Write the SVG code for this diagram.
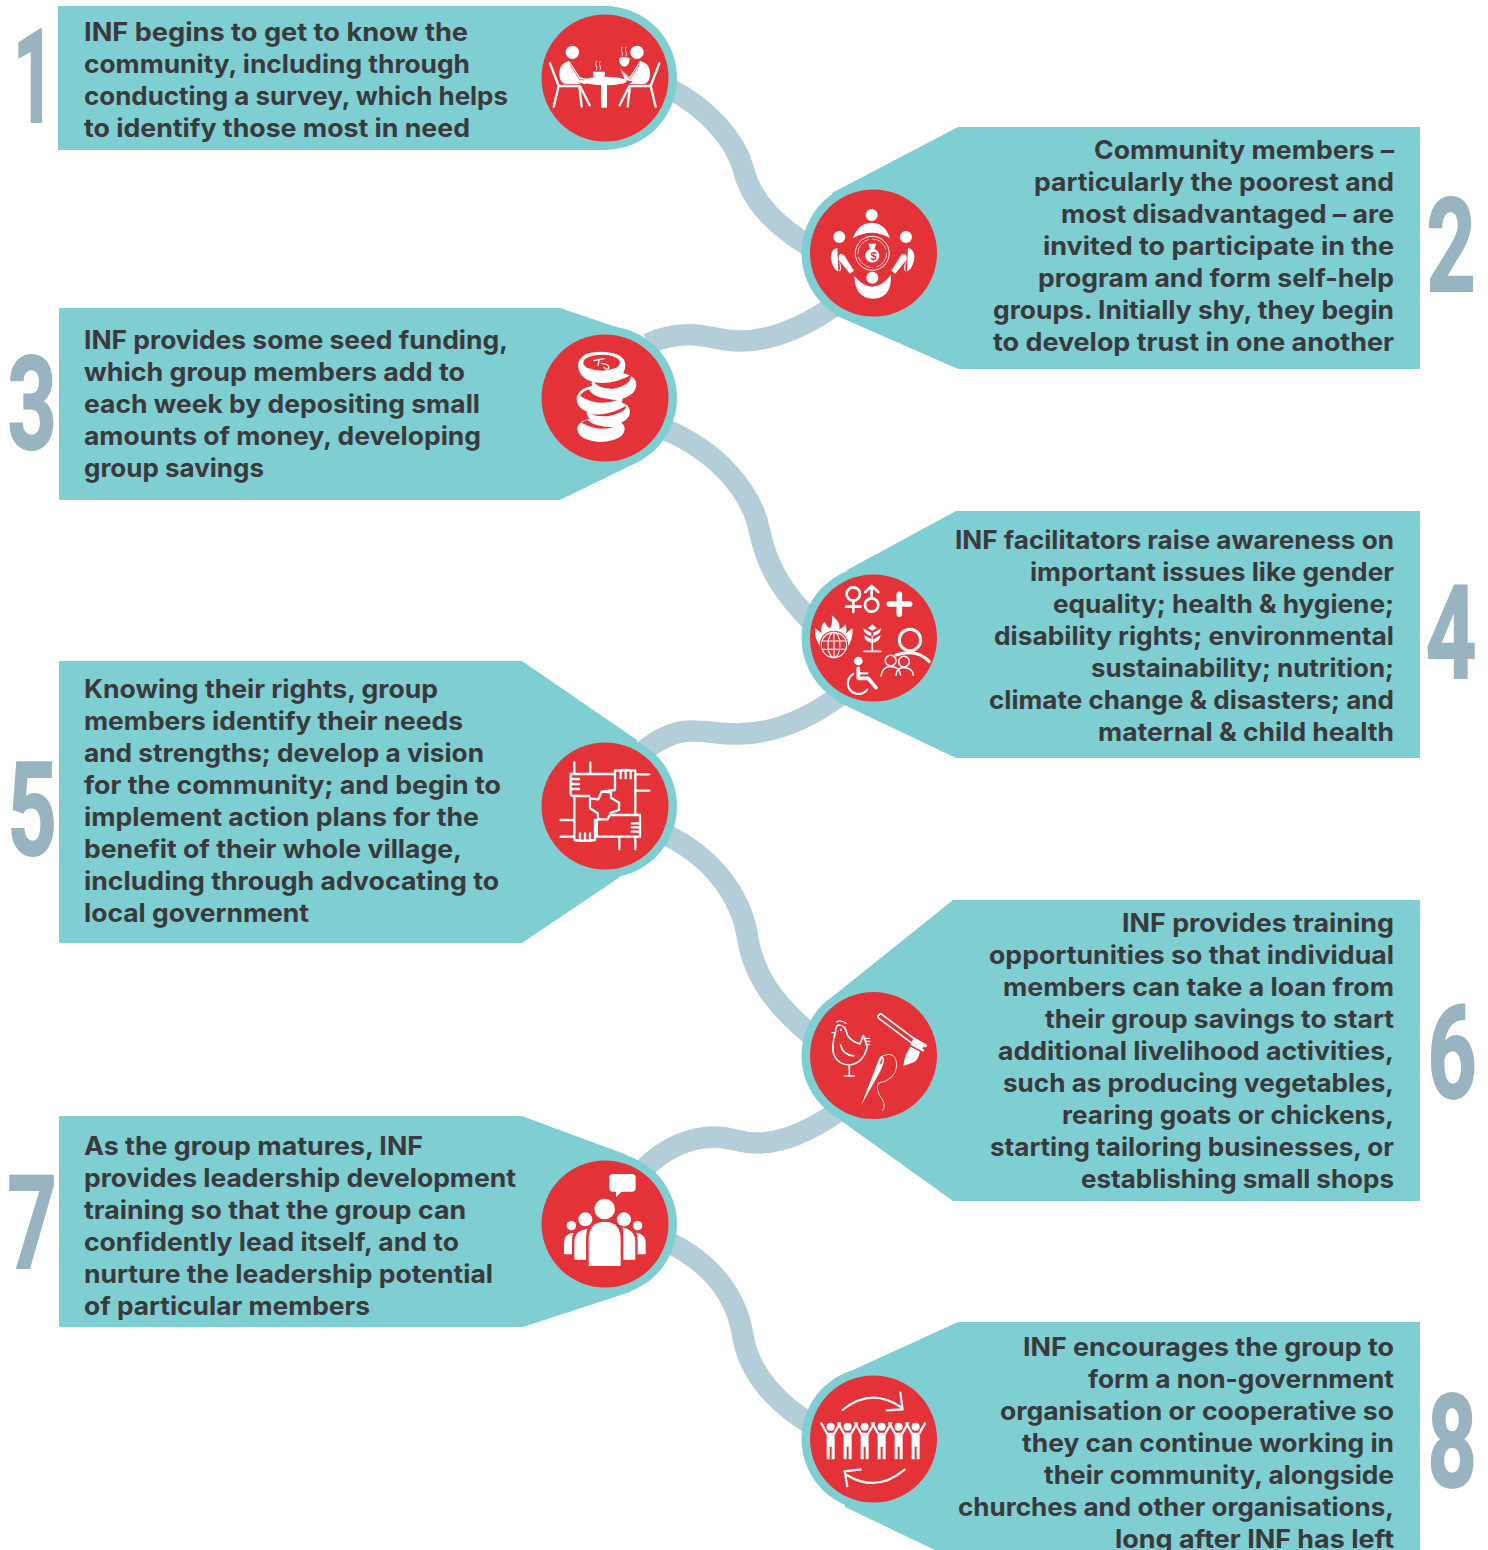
<svg xmlns="http://www.w3.org/2000/svg" width="1488" height="1550" viewBox="0 0 1488 1550">
<style>
.box{fill:#7fced2}
.disc{fill:#e43338}
.conn{fill:none;stroke:#b3ced8;stroke-width:21.5}
.t text{font-family:"Inter","Liberation Sans",sans-serif;font-weight:700;font-size:25.5px;fill:#3a3a3c}
.num{font-family:"Roboto","Liberation Sans",sans-serif;font-weight:700;font-size:130px;fill:#99b4c1;stroke:#99b4c1;stroke-width:2;text-anchor:middle}
.w{fill:#fff}
.ws{fill:none;stroke:#fff;stroke-linecap:round;stroke-linejoin:round}
.rs{fill:none;stroke:#e43338;stroke-linecap:round;stroke-linejoin:round}
</style>
<defs>
<g id="person">
<circle cx="0" cy="860" r="12" class="w"/>
<path class="w" d="M-12 878H12V958H3V920H-3V958H-12Z"/>
<path class="ws" stroke-width="7" d="M-10 882L-28 850M10 882L28 850"/>
</g>
</defs>
<rect width="1488" height="1550" fill="#fff"/>
<g id="connectors" class="conn">
<path d="M668 88C708 108 735 140 743 168C752 205 780 228 812 248"/>
<path d="M648 344C665 336 680 334 695 335C710 336 722 341 740 341C775 341 808 325 840 302"/>
<path d="M664 429C715 450 752 490 760 533C768 570 785 595 814 624"/>
<path d="M645 750C660 738 675 731 692 731C710 731 718 734 737 734C775 734 810 718 842 694"/>
<path d="M664 834C710 855 742 895 748 940C755 980 780 1010 814 1037"/>
<path d="M645 1168C665 1148 690 1137 715 1137C730 1137 740 1143 757 1143C785 1143 812 1130 840 1110"/>
<path d="M666 1241C710 1262 737 1295 743 1337C750 1375 778 1405 814 1426"/>
</g>

<g id="node-1">
<rect class="box" x="58" y="6" width="547" height="144"/><circle class="box" cx="605" cy="78" r="72"/>
<circle class="disc" cx="605" cy="78" r="63.5"/>
<g transform="translate(530,0) scale(.3333)">
<circle class="w" cx="127" cy="157" r="20"/><circle class="w" cx="321" cy="157" r="20"/>
<path class="w" d="M118 183Q86 190 88 225Q90 250 108 252L150 252L135 240Q125 215 118 183Z"/>
<path class="w" d="M330 183Q362 190 360 225Q358 250 340 252L298 252L313 240Q323 215 330 183Z"/>
<path class="w" d="M118 183L150 232L185 240L165 252L135 245Z"/>
<path class="w" d="M330 183L298 232L270 205L285 240L313 245Z"/>
<path class="rs" stroke-width="2" d="M122 195L148 238L185 244M326 195L300 238L272 210"/>
<path class="ws" stroke-width="7" d="M60 190L86 258L71 320M85 258H148L155 320M150 258L179 316M388 190L362 258L377 320M363 258H300L293 320M298 258L269 316"/>
<ellipse class="w" cx="225" cy="243" rx="65" ry="13"/><rect class="w" x="213" y="250" width="18" height="73"/>
<path class="w" d="M189 215H225Q225 245 207 246Q189 245 189 215Z"/>
<path class="w" d="M267 175Q283 168 299 175Q298 200 283 200Q268 200 267 175Z"/>
<path class="ws" stroke-width="2.5" d="M199 184Q195 192 199 198Q203 205 199 210M210 184Q206 192 210 198Q214 205 210 210M276 142Q272 150 276 156Q280 162 276 168M288 142Q284 150 288 156Q292 162 288 168"/>
</g>
<g class="t"><text x="84" y="41" textLength="384" lengthAdjust="spacingAndGlyphs">INF begins to get to know the</text>
<text x="84" y="73" textLength="386" lengthAdjust="spacingAndGlyphs">community, including through</text>
<text x="84" y="105" textLength="424" lengthAdjust="spacingAndGlyphs">conducting a survey, which helps</text>
<text x="84" y="137" textLength="386" lengthAdjust="spacingAndGlyphs">to identify those most in need</text></g>
<text class="num" transform="translate(34,122) scale(.56,1)">1</text>
</g>

<g id="node-2">
<path class="box" d="M1420 127H958L832 193L835 315L958 369H1420Z"/><circle class="box" cx="873.5" cy="253" r="72"/>
<circle class="disc" cx="873.5" cy="253" r="63.5"/>
<g transform="translate(530,0) scale(.3333)">
<circle class="w" cx="1025" cy="645" r="18"/><circle class="w" cx="928" cy="711" r="18"/><circle class="w" cx="1128" cy="711" r="18"/><circle class="w" cx="1027" cy="833" r="18"/>
<path class="w" d="M969 715Q985 668 1025 668Q1065 668 1080 715Q1025 682 969 715Z"/>
<path class="w" d="M973 828Q1000 860 1027 860Q1055 860 1083 825Q1085 895 1030 896Q975 895 973 828Z"/>
<path class="w" d="M922 743Q898 750 904 782Q912 815 930 814Q940 805 926 780Q924 755 942 765L972 812L960 821L925 778Q935 815 925 813Z"/>
<path class="w" d="M1134 743Q1158 750 1152 782Q1144 815 1126 814Q1116 805 1130 780Q1132 755 1114 765L1084 812L1096 821L1131 778Q1121 815 1131 813Z"/>
<circle class="ws" stroke-width="3" cx="1027" cy="760" r="51"/><circle class="ws" stroke-width="2" cx="1027" cy="760" r="43" stroke-dasharray="55 12"/>
<circle class="w" cx="1027" cy="767" r="21"/><path class="w" d="M1015 731H1039L1032 750H1022Z"/>
</g>
<text x="873.5" y="260" font-family="Liberation Sans,sans-serif" font-weight="700" font-size="11" fill="#e43338" text-anchor="middle">$</text>
<g class="t"><text x="1094" y="159" textLength="300" lengthAdjust="spacingAndGlyphs">Community members –</text>
<text x="1034" y="191" textLength="360" lengthAdjust="spacingAndGlyphs">particularly the poorest and</text>
<text x="1061" y="223" textLength="333" lengthAdjust="spacingAndGlyphs">most disadvantaged – are</text>
<text x="1043" y="255" textLength="351" lengthAdjust="spacingAndGlyphs">invited to participate in the</text>
<text x="1038" y="287" textLength="356" lengthAdjust="spacingAndGlyphs">program and form self-help</text>
<text x="993" y="319" textLength="401" lengthAdjust="spacingAndGlyphs">groups. Initially shy, they begin</text>
<text x="993" y="351" textLength="401" lengthAdjust="spacingAndGlyphs">to develop trust in one another</text></g>
<text class="num" transform="translate(1451,291) scale(.66,1)">2</text>
</g>

<g id="node-3">
<path class="box" d="M59 308H560L640 335L642 460L560 500H59Z"/><circle class="box" cx="605" cy="398" r="72"/>
<circle class="disc" cx="605" cy="398" r="63.5"/>
<g transform="translate(530,320) scale(.3333)">
<path class="w" d="M142 325Q145 298 200 294Q282 296 284 325Q284 362 212 366Q142 362 142 325Z"/>
<path class="w" d="M170 275Q175 245 235 240Q300 245 300 275Q298 310 235 315Q170 310 170 275Z"/>
<path class="w" d="M140 235Q145 200 205 195Q270 195 278 235Q275 278 208 282Q140 278 140 235Z"/>
<path class="w" d="M185 190Q190 160 250 155Q320 160 319 195Q315 235 250 240Q190 235 185 190Z"/>
<path class="w" d="M144 135Q148 95 215 95Q285 98 286 135Q284 185 215 190Q146 185 144 135Z"/>
<ellipse class="disc" cx="215" cy="128" rx="55" ry="24"/>
<path class="disc" d="M192 187Q250 195 303 165Q305 195 250 206Q210 208 192 187Z"/>
<path class="disc" d="M150 228Q160 212 178 208Q185 235 262 240Q205 262 150 228Z"/>
<path class="disc" d="M182 282Q230 290 288 258Q290 275 240 287Q205 292 182 282Z"/>
<path class="disc" d="M155 308Q165 300 172 300Q195 322 252 322Q200 335 155 308Z"/>
<path class="ws" stroke-width="4" d="M192 122L222 116M208 118L204 136M214 130Q240 132 236 146Q228 150 222 142"/>
</g>
<g class="t"><text x="84" y="349" textLength="424" lengthAdjust="spacingAndGlyphs">INF provides some seed funding,</text>
<text x="84" y="381" textLength="381" lengthAdjust="spacingAndGlyphs">which group members add to</text>
<text x="84" y="413" textLength="396" lengthAdjust="spacingAndGlyphs">each week by depositing small</text>
<text x="84" y="445" textLength="397" lengthAdjust="spacingAndGlyphs">amounts of money, developing</text>
<text x="84" y="477" textLength="180" lengthAdjust="spacingAndGlyphs">group savings</text></g>
<text class="num" transform="translate(32,449) scale(.66,1)">3</text>
</g>

<g id="node-4">
<path class="box" d="M1420 511H956L847 570L838 702L956 758H1420Z"/><circle class="box" cx="873.5" cy="638" r="72"/>
<circle class="disc" cx="873.5" cy="638" r="63.5"/>
<g transform="translate(530,320) scale(.3333)">
<g class="ws" stroke-width="8"><circle cx="970" cy="822" r="20"/><path d="M970 842V876M949 860H992"/>
<circle cx="1025" cy="855" r="20"/><path d="M1025 835V800M1006 816L1025 798L1045 816"/></g>
<path class="ws" stroke-width="17" d="M1078 852H1139M1108 823V882"/>
<path class="w" d="M905 885Q935 910 928 928Q945 920 945 912Q952 925 948 940Q960 930 968 925Q970 960 950 985L880 990Q850 960 856 925L875 940Q870 915 885 905Q890 920 900 925Q910 905 905 885Z"/>
<circle class="disc" cx="912" cy="975" r="43"/>
<g class="ws" stroke-width="3.5"><circle cx="912" cy="975" r="38"/><ellipse cx="912" cy="975" rx="18" ry="38"/><path d="M912 937V1013M876 963H948M876 988H948"/></g>
<path class="ws" stroke-width="5" d="M1027 950V990M1002 994H1052"/>
<path class="w" d="M1024 948Q1002 945 1000 925L1024 938ZM1030 948Q1052 945 1053 925L1030 938ZM1024 968Q1004 965 1002 945L1024 958ZM1030 968Q1050 965 1052 945L1030 958ZM1027 913L1040 925L1027 932L1014 925Z"/>
<g class="ws" stroke-width="9"><circle cx="1140" cy="960" r="32"/><path d="M1098 1005Q1160 985 1198 1025"/></g>
<g stroke="#fff" stroke-width="4.5" fill="#e43338"><circle cx="1082" cy="1022" r="16"/><circle cx="1122" cy="1025" r="16"/></g>
<path class="ws" stroke-width="4.5" d="M1053 1068Q1058 1038 1085 1040Q1108 1040 1112 1065M1098 1066Q1100 1042 1124 1043Q1148 1044 1150 1066"/>
<circle class="w" cx="985" cy="1023" r="13"/>
<path class="ws" stroke-width="11" d="M985 1045V1075H1015L1038 1103"/><path class="ws" stroke-width="7" d="M985 1060H1012"/>
<path class="ws" stroke-width="6.5" d="M970 1062A32 32 0 1 0 1012 1108"/>
</g>
<g class="t"><text x="955" y="549" textLength="439" lengthAdjust="spacingAndGlyphs">INF facilitators raise awareness on</text>
<text x="1030" y="581" textLength="364" lengthAdjust="spacingAndGlyphs">important issues like gender</text>
<text x="1053" y="613" textLength="341" lengthAdjust="spacingAndGlyphs">equality; health &amp; hygiene;</text>
<text x="994" y="645" textLength="400" lengthAdjust="spacingAndGlyphs">disability rights; environmental</text>
<text x="1091" y="677" textLength="303" lengthAdjust="spacingAndGlyphs">sustainability; nutrition;</text>
<text x="989" y="709" textLength="405" lengthAdjust="spacingAndGlyphs">climate change &amp; disasters; and</text>
<text x="1098" y="741" textLength="296" lengthAdjust="spacingAndGlyphs">maternal &amp; child health</text></g>
<text class="num" transform="translate(1451,678) scale(.68,1)">4</text>
</g>

<g id="node-5">
<path class="box" d="M59 661H522L637 740L620 877L522 943H59Z"/><circle class="box" cx="605" cy="806" r="72"/>
<circle class="disc" cx="605" cy="806" r="63.5"/>
<g transform="translate(530,730) scale(.3333)">
<path class="ws" stroke-width="7" d="M133 97V132M181 97V132M122 132H255M318 133H358M318 182H358M92 270H133M92 320H133M268 322V358M316 322V358
M122 132V192Q122 198 132 198H178M122 147H147M122 162H147M122 177H147M133 198V328
M255 122Q285 118 316 122V255M255 122V180L215 185M272 122V145M287 122V145M302 122V145
M180 205L205 208L215 185L243 187L243 203L267 218L267 240L243 248L233 268L205 268L203 250L180 235Z
M240 255H330V320H200V272M305 280H330M305 292H330M305 305H330
M133 330Q160 335 195 330V270H205M150 310V330M165 310V330M180 310V330"/>
</g>
<g class="t"><text x="84" y="698" textLength="354" lengthAdjust="spacingAndGlyphs">Knowing their rights, group</text>
<text x="84" y="730" textLength="379" lengthAdjust="spacingAndGlyphs">members identify their needs</text>
<text x="84" y="762" textLength="400" lengthAdjust="spacingAndGlyphs">and strengths; develop a vision</text>
<text x="84" y="794" textLength="417" lengthAdjust="spacingAndGlyphs">for the community; and begin to</text>
<text x="84" y="826" textLength="395" lengthAdjust="spacingAndGlyphs">implement action plans for the</text>
<text x="84" y="858" textLength="378" lengthAdjust="spacingAndGlyphs">benefit of their whole village,</text>
<text x="84" y="890" textLength="415" lengthAdjust="spacingAndGlyphs">including through advocating to</text>
<text x="84" y="922" textLength="225" lengthAdjust="spacingAndGlyphs">local government</text></g>
<text class="num" transform="translate(32,855) scale(.66,1)">5</text>
</g>

<g id="node-6">
<path class="box" d="M1420 900H953L832 997L840 1120L953 1201H1420Z"/><circle class="box" cx="873.5" cy="1055.5" r="72"/>
<circle class="disc" cx="873.5" cy="1055.5" r="63.5"/>
<g transform="translate(530,730) scale(.3333)">
<path class="ws" stroke-width="5" d="M917 905Q903 950 912 975Q925 1005 960 1005Q1000 1000 1012 950L1000 917L990 942Q965 935 952 915Q948 885 925 885Q917 888 917 905ZM958 1005V1037M945 1038H973M932 945Q938 975 972 978"/>
<path class="ws" stroke-width="4" d="M906 908H916M920 876Q930 868 948 880M1006 925H1018M1008 934H1020M1008 943H1018"/>
<circle class="w" cx="933" cy="900" r="3.5"/>
<path class="ws" stroke-width="20" d="M1052 860L1148 932"/><path class="rs" stroke-width="10" d="M1052 860L1148 932"/>
<path class="w" d="M1152 922L1192 945L1180 965L1142 945Z"/>
<circle class="disc" cx="1183" cy="955" r="5"/>
<path class="w" d="M1142 950L1170 965Q1165 985 1155 995L1120 1008Q1125 970 1142 950Z"/>
<path class="w" d="M993 1127L1048 985Q1055 970 1062 985Q1062 1005 1050 1025Z"/>
<ellipse class="disc" cx="1054" cy="995" rx="2.5" ry="9" transform="rotate(20 1054 995)"/>
<path class="ws" stroke-width="2.5" d="M1058 978Q1100 960 1100 1010Q1095 1050 1045 1060Q1035 1080 1058 1110Q1068 1130 1058 1142"/>
</g>
<g class="t"><text x="1122" y="932" textLength="272" lengthAdjust="spacingAndGlyphs">INF provides training</text>
<text x="989" y="964" textLength="405" lengthAdjust="spacingAndGlyphs">opportunities so that individual</text>
<text x="1003" y="996" textLength="391" lengthAdjust="spacingAndGlyphs">members can take a loan from</text>
<text x="1045" y="1028" textLength="349" lengthAdjust="spacingAndGlyphs">their group savings to start</text>
<text x="998" y="1060" textLength="396" lengthAdjust="spacingAndGlyphs">additional livelihood activities,</text>
<text x="1003" y="1092" textLength="391" lengthAdjust="spacingAndGlyphs">such as producing vegetables,</text>
<text x="1062" y="1124" textLength="332" lengthAdjust="spacingAndGlyphs">rearing goats or chickens,</text>
<text x="990" y="1156" textLength="404" lengthAdjust="spacingAndGlyphs">starting tailoring businesses, or</text>
<text x="1081" y="1188" textLength="313" lengthAdjust="spacingAndGlyphs">establishing small shops</text></g>
<text class="num" transform="translate(1452,1098) scale(.66,1)">6</text>
</g>

<g id="node-7">
<path class="box" d="M59 1116H522L627 1155L630 1292L523 1327H59Z"/><circle class="box" cx="605" cy="1224" r="72"/>
<circle class="disc" cx="605" cy="1224" r="63.5"/>
<g transform="translate(530,1140) scale(.3333)">
<rect class="w" x="238" y="102" width="79" height="53" rx="11"/><path class="w" d="M258 150V172L280 150Z"/>
<circle class="w" cx="224" cy="207" r="31"/><path class="w" d="M176 378V300Q176 245 224 245Q272 245 272 300V378Z"/>
<circle class="w" cx="166" cy="238" r="21"/><circle class="w" cx="282" cy="238" r="21"/>
<path class="w" d="M133 359V305Q133 272 172 266Q168 280 168 300V359Z"/><path class="w" d="M316 359V305Q316 272 278 262Q280 280 280 300V359Z"/>
<circle class="w" cx="124" cy="257" r="14"/><circle class="w" cx="323" cy="257" r="14"/>
<path class="w" d="M102 343V305Q103 282 130 278Q126 290 126 305V343Z"/><path class="w" d="M347 343V305Q346 282 319 278Q323 290 323 305V343Z"/>
</g>
<g class="t"><text x="84" y="1155" textLength="339" lengthAdjust="spacingAndGlyphs">As the group matures, INF</text>
<text x="84" y="1187" textLength="432" lengthAdjust="spacingAndGlyphs">provides leadership development</text>
<text x="84" y="1219" textLength="382" lengthAdjust="spacingAndGlyphs">training so that the group can</text>
<text x="84" y="1251" textLength="375" lengthAdjust="spacingAndGlyphs">confidently lead itself, and to</text>
<text x="84" y="1283" textLength="409" lengthAdjust="spacingAndGlyphs">nurture the leadership potential</text>
<text x="84" y="1315" textLength="286" lengthAdjust="spacingAndGlyphs">of particular members</text></g>
<text class="num" transform="translate(32,1268) scale(.66,1)">7</text>
</g>

<g id="node-8">
<path class="box" d="M1420 1322H958L853 1370L845 1507L960 1562L1420 1562Z"/><circle class="box" cx="873.5" cy="1439" r="72"/>
<circle class="disc" cx="873.5" cy="1439" r="63.5"/>
<g transform="translate(530,1140) scale(.3333)">
<path class="ws" stroke-width="6.5" d="M938 810Q1025 740 1115 803M1111 758L1118 808L1070 811M1124 989Q1040 1060 950 1005M993 988L944 994L952 1039"/>
<use href="#person" x="902"/><use href="#person" x="953"/><use href="#person" x="1004"/><use href="#person" x="1055"/><use href="#person" x="1106"/><use href="#person" x="1157"/>
</g>
<g class="t"><text x="1023" y="1356" textLength="371" lengthAdjust="spacingAndGlyphs">INF encourages the group to</text>
<text x="1088" y="1388" textLength="306" lengthAdjust="spacingAndGlyphs">form a non-government</text>
<text x="1000" y="1420" textLength="394" lengthAdjust="spacingAndGlyphs">organisation or cooperative so</text>
<text x="1022" y="1452" textLength="372" lengthAdjust="spacingAndGlyphs">they can continue working in</text>
<text x="1044" y="1484" textLength="350" lengthAdjust="spacingAndGlyphs">their community, alongside</text>
<text x="958" y="1516" textLength="436" lengthAdjust="spacingAndGlyphs">churches and other organisations,</text>
<text x="1115" y="1548" textLength="279" lengthAdjust="spacingAndGlyphs">long after INF has left</text></g>
<text class="num" transform="translate(1452,1487) scale(.66,1)">8</text>
</g>
</svg>
